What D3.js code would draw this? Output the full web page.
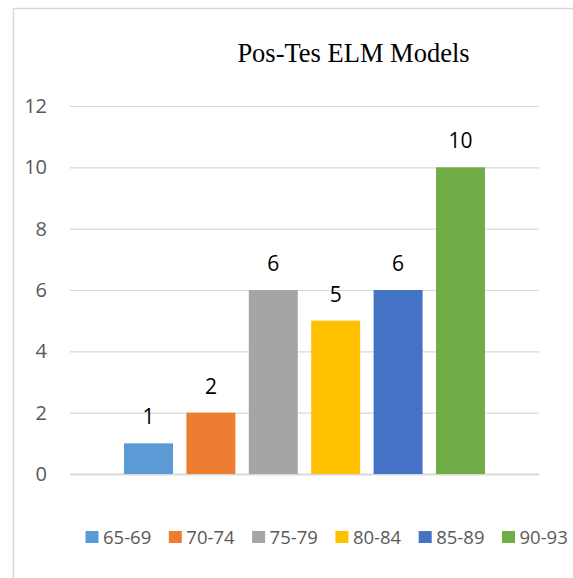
<!DOCTYPE html>
<html>
<head>
  <meta charset="UTF-8">
  <title>Pos-Tes ELM Models</title>
  <style>
    body { margin: 0; background: #fff; }
    svg { display: block; }
  </style>
</head>
<body>
<svg></svg>
<script src="https://d3js.org/d3.v7.min.js"></script>
<script>

// data
let groups = ["65-69", "70-74", "75-79", "80-84", "85-89", "90-93"];
let counts = [1, 2, 6, 5, 6, 10];
let yTicks = [0, 2, 4, 6, 8, 10, 12];
let colors = ["#5B9BD5", "#ED7D31", "#A5A5A5", "#FFC000", "#4472C4", "#70AD47"];

let width = 573, height = 578;

let svg = d3.select("svg")
    .attr("width", width)
    .attr("height", height);

// outer chart border (right/bottom fall off the picture)
svg.append("rect")
    .attr("x", 13.5)
    .attr("y", 8.5)
    .attr("width", 700)
    .attr("height", 700)
    .attr("fill", "none")
    .attr("stroke", "#d9d9d9")
    .attr("stroke-width", 1.5);

let plotLeft = 70, plotRight = 539;

let y = d3.scaleLinear()
    .domain([0, 12])
    .range([474, 106]);

let x = d3.scaleBand()
    .domain(groups)
    .range([plotLeft, plotRight])
    .paddingInner(0.215)
    .paddingOuter(0.866);

let color = d3.scaleOrdinal()
    .domain(groups)
    .range(colors);

// title
svg.append("text")
    .attr("x", 353.5)
    .attr("y", 62)
    .attr("text-anchor", "middle")
    .style("font-family", "'Liberation Serif', 'Times New Roman', serif")
    .style("font-size", "26.5px")
    .style("fill", "#000")
    .text("Pos-Tes ELM Models");

// gridlines + y labels
let yAxis = d3.axisLeft(y)
    .tickValues(yTicks)
    .tickSize(-(plotRight - plotLeft))
    .tickPadding(23);

let gy = svg.append("g")
    .attr("transform", "translate(" + plotLeft + ",0)")
    .call(yAxis);

gy.select(".domain").remove();
gy.selectAll(".tick line")
    .attr("stroke", "#d9d9d9")
    .attr("stroke-width", d => d == 0 ? 1.8 : 1.2);
gy.selectAll(".tick text")
    .style("font-family", "'Open Sans', sans-serif")
    .style("font-size", "20px")
    .style("fill", "#595959");

// bars
svg.append("g")
    .selectAll("rect")
    .data(groups)
    .enter()
    .append("rect")
    .attr("x", d => x(d))
    .attr("y", (d, i) => y(counts[i]))
    .attr("width", x.bandwidth())
    .attr("height", (d, i) => y(0) - y(counts[i]))
    .style("fill", d => color(d));

// value labels
svg.append("g")
    .selectAll("text")
    .data(groups)
    .enter()
    .append("text")
    .attr("x", d => x(d) + x.bandwidth() / 2)
    .attr("y", (d, i) => y(counts[i]) - 19)
    .attr("text-anchor", "middle")
    .style("font-family", "'Open Sans', sans-serif")
    .style("font-size", "21px")
    .style("fill", "#000")
    .text((d, i) => counts[i]);

// legend
let legend = svg.selectAll("g.legend")
    .data(groups)
    .enter().append("g")
    .attr("class", "legend")
    .attr("transform", (d, i) => "translate(" + (85.5 + i * 83.3) + ",531)");

legend.append("rect")
    .attr("width", 13)
    .attr("height", 12)
    .style("fill", d => color(d));

legend.append("text")
    .attr("x", 17.5)
    .attr("y", 12.5)
    .style("font-family", "'Open Sans', sans-serif")
    .style("font-size", "18.5px")
    .style("fill", "#595959")
    .text(d => d);

</script>
</body>
</html>
